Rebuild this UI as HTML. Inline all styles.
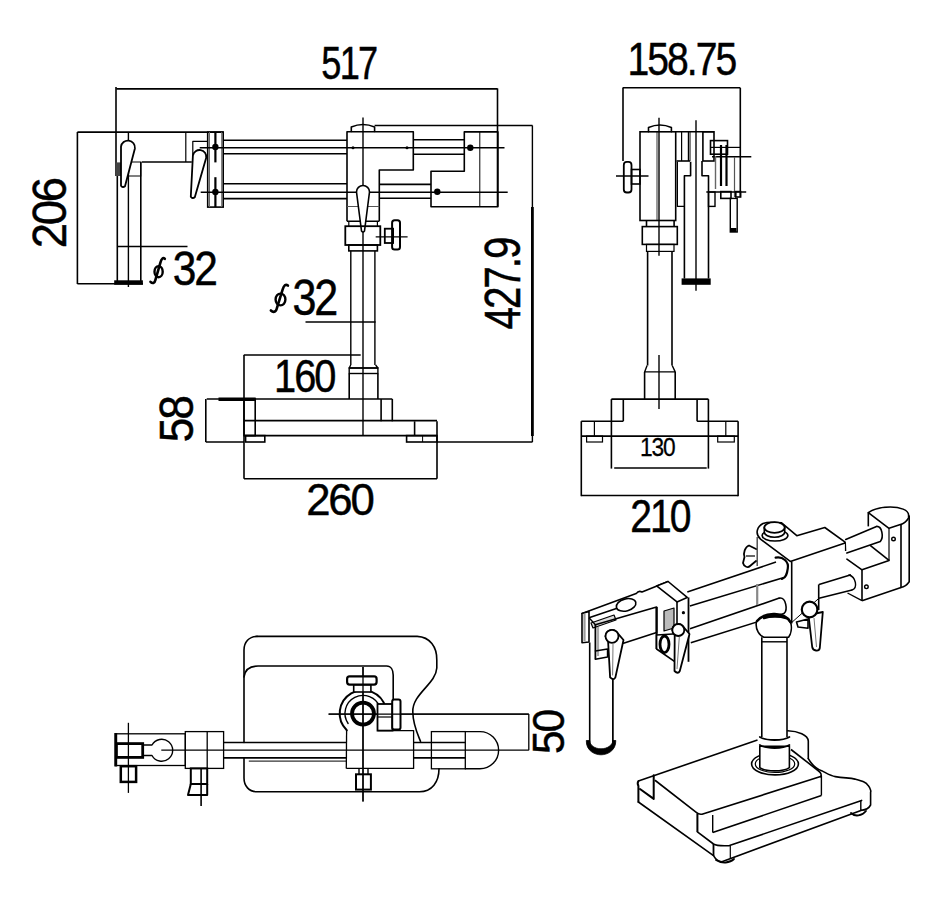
<!DOCTYPE html>
<html><head><meta charset="utf-8"><style>html,body{margin:0;padding:0;background:#fff;}svg{display:block;}</style></head>
<body><svg width="941" height="914" viewBox="0 0 941 914">
<rect width="941" height="914" fill="#fff"/>
<line x1="116.3" y1="88.9" x2="497.5" y2="88.9" stroke="#000" stroke-width="1.6"/>
<line x1="116" y1="87" x2="116" y2="176" stroke="#000" stroke-width="1.6"/>
<line x1="497.5" y1="88.4" x2="497.5" y2="206.5" stroke="#000" stroke-width="1.6"/>
<text transform="translate(321.35,78.53) scale(0.3622,0.4714)" font-family="Liberation Sans" font-size="100" letter-spacing="-5" fill="#000" stroke="#000" stroke-width="1">517</text>
<line x1="77.4" y1="132.1" x2="223.6" y2="132.1" stroke="#000" stroke-width="1.6"/>
<line x1="77.4" y1="132" x2="77.4" y2="284" stroke="#000" stroke-width="1.6"/>
<line x1="77.4" y1="283.7" x2="143" y2="283.7" stroke="#000" stroke-width="1.6"/>
<text transform="translate(65.52,248.17) rotate(-90) scale(0.4537,0.4789)" font-family="Liberation Sans" font-size="100" letter-spacing="-5" fill="#000" stroke="#000" stroke-width="1">206</text>
<line x1="141.8" y1="162" x2="191.8" y2="162" stroke="#000" stroke-width="1.6"/>
<line x1="185.8" y1="132" x2="185.8" y2="162" stroke="#000" stroke-width="1.2"/>
<polyline points="192.8,162 192.8,141.3 207.7,141.3" fill="none" stroke="#000" stroke-width="1.2" stroke-linejoin="round"/>
<rect x="207.7" y="132.1" width="15.5" height="75.0" rx="0" fill="none" stroke="#000" stroke-width="1.6"/>
<line x1="209.5" y1="132" x2="209.5" y2="207" stroke="#666" stroke-width="1.0"/>
<line x1="221.7" y1="132" x2="221.7" y2="207" stroke="#666" stroke-width="1.0"/>
<line x1="215.4" y1="132" x2="215.4" y2="162.4" stroke="#000" stroke-width="2.2"/>
<line x1="215.4" y1="177.2" x2="215.4" y2="207" stroke="#000" stroke-width="2.2"/>
<circle cx="215.4" cy="147" r="3.2" fill="#000"/>
<circle cx="215.4" cy="192" r="3.2" fill="#000"/>
<line x1="223.2" y1="140.2" x2="347" y2="140.2" stroke="#000" stroke-width="1.6"/>
<line x1="223.2" y1="153.7" x2="347" y2="153.7" stroke="#000" stroke-width="1.6"/>
<line x1="223.2" y1="183.8" x2="347" y2="183.8" stroke="#000" stroke-width="1.6"/>
<line x1="223.2" y1="198.6" x2="347" y2="198.6" stroke="#000" stroke-width="1.6"/>
<line x1="199.7" y1="147.8" x2="504.5" y2="147.8" stroke="#000" stroke-width="1.6"/>
<line x1="200.7" y1="192.3" x2="507.7" y2="192.3" stroke="#000" stroke-width="1.6"/>
<line x1="117.3" y1="176" x2="117.3" y2="284" stroke="#000" stroke-width="1.6"/>
<rect x="115.5" y="162.4" width="5.5" height="13.599999999999994" fill="#444"/>
<line x1="128.4" y1="132" x2="128.4" y2="287" stroke="#000" stroke-width="1.4"/>
<line x1="140.8" y1="162" x2="140.8" y2="284" stroke="#000" stroke-width="1.6"/>
<rect x="128.4" y="162" width="12.400000000000006" height="14" rx="0" fill="none" stroke="#000" stroke-width="1.0"/>
<line x1="117" y1="246.5" x2="187.5" y2="246.5" stroke="#000" stroke-width="1.4"/>
<rect x="114.2" y="280.3" width="28.700000000000003" height="4.5" fill="#000"/>
<path d="M121.0,146.7 A7.0,7.0 0 0 1 134.9,148.4 L125.0,186.3 Q122.7,188.0 121.0,185.7 Z" fill="#fff" stroke="#000" stroke-width="1.8" stroke-linejoin="round"/>
<path d="M192.9,155.5 A6.75,6.75 0 0 1 206.2,157.8 L194.8,197.3 Q192.5,199.0 190.8,196.7 Z" fill="#fff" stroke="#000" stroke-width="1.8" stroke-linejoin="round"/>
<text transform="translate(172.70,284.53) scale(0.4247,0.4718)" font-family="Liberation Sans" font-size="100" letter-spacing="-5" fill="#000" stroke="#000" stroke-width="1">32</text>
<ellipse cx="158.6" cy="271.7" rx="4.1" ry="5.5" fill="none" stroke="#000" stroke-width="2.4"/>
<path d="M164.8,258.8 C163.0,257.2 161.5,258.6 160.4,262.7 L155.5,279.6 C154.6,283.7 152.3,283.7 150.5,281.8" fill="none" stroke="#000" stroke-width="2.6" stroke-linecap="round"/>
<path d="M351.3,131.5 L351.3,127 Q363,122 374.6,127 L374.6,131.5" fill="none" stroke="#000" stroke-width="1.6" stroke-linejoin="round" stroke-linecap="round"/>
<line x1="363" y1="117.4" x2="363" y2="436" stroke="#000" stroke-width="1.4"/>
<line x1="374.6" y1="125.5" x2="532.5" y2="125.5" stroke="#000" stroke-width="1.6"/>
<polyline points="347,221.3 347,131.7 413.3,131.7 413.3,170 379.3,170 379.3,221.3" fill="none" stroke="#000" stroke-width="1.6" stroke-linejoin="round"/>
<line x1="413.3" y1="139.8" x2="464.3" y2="139.8" stroke="#000" stroke-width="1.6"/>
<line x1="413.3" y1="154.2" x2="464.3" y2="154.2" stroke="#000" stroke-width="1.6"/>
<line x1="379.3" y1="184.4" x2="431" y2="184.4" stroke="#000" stroke-width="1.6"/>
<line x1="379.3" y1="198.2" x2="431" y2="198.2" stroke="#000" stroke-width="1.6"/>
<circle cx="353" cy="147.8" r="1.5" fill="#000"/>
<circle cx="407" cy="147.8" r="1.5" fill="#000"/>
<polygon points="464.3,131.9 497.9,131.9 497.9,206.7 431,206.7 431,171.2 464.3,171.2" fill="none" stroke="#000" stroke-width="1.6" stroke-linejoin="round"/>
<line x1="479.8" y1="132" x2="479.8" y2="206.5" stroke="#000" stroke-width="1.0"/>
<circle cx="470.3" cy="147.8" r="3.2" fill="#000"/>
<circle cx="437.3" cy="191.8" r="3.2" fill="#000"/>
<line x1="347" y1="206.5" x2="379.3" y2="206.5" stroke="#555" stroke-width="1.2"/>
<line x1="347" y1="221.3" x2="379.3" y2="221.3" stroke="#000" stroke-width="1.6"/>
<line x1="348.8" y1="221.3" x2="348.8" y2="226.2" stroke="#000" stroke-width="1.2"/>
<line x1="377.4" y1="221.3" x2="377.4" y2="226.2" stroke="#000" stroke-width="1.2"/>
<path d="M356.5,192.0 A6.5,6.5 0 0 1 369.5,192.0 L364.5,231.0 Q363.0,233.0 361.5,231.0 Z" fill="#fff" stroke="#000" stroke-width="1.6" stroke-linejoin="round"/>
<rect x="345.3" y="226.2" width="35.0" height="18.80000000000001" rx="0" fill="none" stroke="#000" stroke-width="1.8"/>
<rect x="348.8" y="245" width="28.599999999999966" height="5.900000000000006" rx="0" fill="none" stroke="#000" stroke-width="1.6"/>
<line x1="350.8" y1="250.9" x2="350.8" y2="365" stroke="#000" stroke-width="1.4"/>
<line x1="374.9" y1="250.9" x2="374.9" y2="365" stroke="#000" stroke-width="1.4"/>
<line x1="375.7" y1="236.9" x2="407.6" y2="236.9" stroke="#000" stroke-width="1.4"/>
<rect x="384.8" y="228.7" width="8.300000000000011" height="14.300000000000011" rx="0" fill="none" stroke="#000" stroke-width="1.8"/>
<rect x="392.1" y="220.3" width="7.899999999999977" height="29.099999999999994" rx="2.5" fill="none" stroke="#000" stroke-width="2"/>
<text transform="translate(292.48,315.01) scale(0.4309,0.4901)" font-family="Liberation Sans" font-size="100" letter-spacing="-5" fill="#000" stroke="#000" stroke-width="1">32</text>
<ellipse cx="280.5" cy="299.5" rx="4.9" ry="5.9" fill="none" stroke="#000" stroke-width="2.4"/>
<path d="M287.9,285.6 C285.7,283.8 283.9,285.3 282.6,289.7 L276.9,308.2 C275.8,312.6 273.1,312.6 270.9,310.5" fill="none" stroke="#000" stroke-width="2.6" stroke-linecap="round"/>
<line x1="305.5" y1="322" x2="375.6" y2="322" stroke="#000" stroke-width="1.4"/>
<line x1="243.8" y1="355" x2="360.7" y2="355" stroke="#000" stroke-width="1.4"/>
<text transform="translate(274.02,392.33) scale(0.3979,0.4704)" font-family="Liberation Sans" font-size="100" letter-spacing="-5" fill="#000" stroke="#000" stroke-width="1">160</text>
<polyline points="350.7,365 349.2,368 377.9,368 375.6,365" fill="none" stroke="#000" stroke-width="1.4" stroke-linejoin="round"/>
<rect x="349.2" y="368" width="28.69999999999999" height="5.5" rx="0" fill="none" stroke="#000" stroke-width="1.4"/>
<line x1="349.2" y1="373.5" x2="349.2" y2="399" stroke="#000" stroke-width="1.6"/>
<line x1="377.9" y1="373.5" x2="377.9" y2="399" stroke="#000" stroke-width="1.6"/>
<line x1="206.7" y1="399" x2="392.3" y2="399" stroke="#000" stroke-width="1.6"/>
<rect x="218.5" y="397.5" width="37.19999999999999" height="3.5" fill="#000"/>
<line x1="205.8" y1="399" x2="205.8" y2="442" stroke="#000" stroke-width="1.6"/>
<line x1="205.8" y1="442" x2="244" y2="442" stroke="#000" stroke-width="1.6"/>
<line x1="437" y1="442" x2="532.5" y2="442" stroke="#000" stroke-width="1.6"/>
<rect x="244" y="399" width="11.199999999999989" height="36.60000000000002" rx="0" fill="none" stroke="#000" stroke-width="1.6"/>
<line x1="244" y1="420.6" x2="437" y2="420.6" stroke="#000" stroke-width="1.6"/>
<line x1="381.1" y1="399" x2="381.1" y2="421.3" stroke="#000" stroke-width="1.6"/>
<line x1="392.3" y1="399" x2="392.3" y2="421.3" stroke="#000" stroke-width="1.6"/>
<line x1="244" y1="435.6" x2="437" y2="435.6" stroke="#000" stroke-width="1.6"/>
<line x1="437" y1="421.3" x2="437" y2="478.7" stroke="#000" stroke-width="1.6"/>
<line x1="414.6" y1="421.3" x2="414.6" y2="435.6" stroke="#000" stroke-width="1.6"/>
<rect x="245.6" y="435.6" width="19.200000000000017" height="6.399999999999977" rx="0" fill="none" stroke="#000" stroke-width="1.6"/>
<rect x="406.6" y="435.6" width="30.399999999999977" height="6.399999999999977" rx="0" fill="none" stroke="#000" stroke-width="1.6"/>
<line x1="422.6" y1="435.6" x2="422.6" y2="442" stroke="#000" stroke-width="1.0"/>
<line x1="244" y1="355" x2="244" y2="478.7" stroke="#000" stroke-width="1.6"/>
<line x1="244" y1="478.7" x2="437" y2="478.7" stroke="#000" stroke-width="1.6"/>
<text transform="translate(192.52,442.28) rotate(-90) scale(0.4449,0.4761)" font-family="Liberation Sans" font-size="100" letter-spacing="-5" fill="#000" stroke="#000" stroke-width="1">58</text>
<text transform="translate(306.21,515.05) scale(0.4372,0.4493)" font-family="Liberation Sans" font-size="100" letter-spacing="-5" fill="#000" stroke="#000" stroke-width="1">260</text>
<line x1="532.4" y1="125.5" x2="532.4" y2="207" stroke="#000" stroke-width="1.4"/>
<line x1="532.4" y1="207" x2="532.4" y2="436" stroke="#000" stroke-width="2.8"/>
<line x1="532.4" y1="436" x2="532.4" y2="442" stroke="#000" stroke-width="1.4"/>
<text transform="translate(520.10,329.41) rotate(-90) scale(0.4031,0.5014)" font-family="Liberation Sans" font-size="100" letter-spacing="-5" fill="#000" stroke="#000" stroke-width="1">427.9</text>
<line x1="622.7" y1="87.8" x2="740.3" y2="87.8" stroke="#000" stroke-width="1.6"/>
<line x1="623" y1="87.8" x2="623" y2="161" stroke="#000" stroke-width="1.6"/>
<line x1="740.3" y1="87.8" x2="740.3" y2="196.7" stroke="#000" stroke-width="1.6"/>
<text transform="translate(627.47,75.24) scale(0.3911,0.4577)" font-family="Liberation Sans" font-size="100" letter-spacing="-5" fill="#000" stroke="#000" stroke-width="1">158.75</text>
<rect x="623.8" y="161.9" width="7.7000000000000455" height="30.599999999999994" rx="3" fill="none" stroke="#000" stroke-width="1.8"/>
<rect x="631.5" y="169.5" width="8.5" height="14.5" rx="0" fill="none" stroke="#000" stroke-width="1.6"/>
<line x1="616" y1="176" x2="648.5" y2="176" stroke="#000" stroke-width="1.4"/>
<rect x="640" y="131.8" width="35.700000000000045" height="88.69999999999999" rx="0" fill="none" stroke="#000" stroke-width="1.6"/>
<path d="M648.5,131.8 L648.5,127.5 Q660,122.5 671.4,127.5 L671.4,131.8" fill="none" stroke="#000" stroke-width="1.6" stroke-linejoin="round" stroke-linecap="round"/>
<line x1="659" y1="117.7" x2="659" y2="255.7" stroke="#000" stroke-width="1.4"/>
<line x1="659" y1="355" x2="659" y2="409" stroke="#000" stroke-width="1.4"/>
<line x1="657" y1="132" x2="657" y2="220" stroke="#000" stroke-width="0.8"/>
<line x1="675.7" y1="131.8" x2="714" y2="131.8" stroke="#000" stroke-width="1.6"/>
<line x1="676.5" y1="161" x2="690" y2="161" stroke="#000" stroke-width="1.6"/>
<line x1="681.6" y1="132" x2="681.6" y2="161" stroke="#000" stroke-width="1.2"/>
<line x1="688.4" y1="132" x2="688.4" y2="161" stroke="#000" stroke-width="1.2"/>
<line x1="690" y1="132" x2="690" y2="161" stroke="#000" stroke-width="1.0"/>
<rect x="702.9" y="131.8" width="11.100000000000023" height="29.19999999999999" rx="0" fill="none" stroke="#000" stroke-width="1.6"/>
<line x1="696" y1="120.2" x2="696" y2="290.8" stroke="#000" stroke-width="1.4"/>
<polyline points="677.4,161.8 677.4,206.4 684.4,206.4" fill="none" stroke="#000" stroke-width="1.2" stroke-linejoin="round"/>
<polyline points="690.6,161.8 690.6,175.8 684.4,175.8 684.4,278.4" fill="none" stroke="#000" stroke-width="1.6" stroke-linejoin="round"/>
<polyline points="702,161 702,175.8 708.5,175.8 708.5,278.4" fill="none" stroke="#000" stroke-width="1.6" stroke-linejoin="round"/>
<rect x="708.5" y="192" width="6.5" height="14.400000000000006" rx="0" fill="none" stroke="#000" stroke-width="1.4"/>
<rect x="710.5" y="140.6" width="17.0" height="13.599999999999994" rx="0" fill="none" stroke="#000" stroke-width="1.6"/>
<line x1="712" y1="156.8" x2="751.3" y2="156.8" stroke="#000" stroke-width="1.4"/>
<line x1="710" y1="147.4" x2="740" y2="147.4" stroke="#000" stroke-width="1.2"/>
<line x1="715.5" y1="156" x2="715.5" y2="189" stroke="#666" stroke-width="1.4"/>
<line x1="721" y1="145" x2="721" y2="186" stroke="#000" stroke-width="2.2"/>
<line x1="726.5" y1="145" x2="726.5" y2="186" stroke="#000" stroke-width="2.2"/>
<line x1="734.5" y1="157" x2="734.5" y2="197" stroke="#555" stroke-width="1.2"/>
<rect x="720.8" y="191.6" width="10.200000000000045" height="6.800000000000011" rx="0" fill="none" stroke="#000" stroke-width="1.6"/>
<rect x="735.8" y="191.6" width="4.800000000000068" height="5.400000000000006" rx="0" fill="none" stroke="#000" stroke-width="1.6"/>
<line x1="706.3" y1="192" x2="746.2" y2="192" stroke="#000" stroke-width="1.4"/>
<rect x="730.3" y="198.4" width="6.900000000000091" height="33.599999999999994" rx="0" fill="none" stroke="#000" stroke-width="1.4"/>
<rect x="731" y="228" width="5.5" height="4" fill="#000"/>
<line x1="646.5" y1="220.5" x2="646.5" y2="226.6" stroke="#000" stroke-width="1.6"/>
<line x1="674.1" y1="220.5" x2="674.1" y2="226.6" stroke="#000" stroke-width="1.6"/>
<rect x="642.3" y="226.6" width="35.0" height="17.80000000000001" rx="0" fill="none" stroke="#000" stroke-width="1.6"/>
<rect x="646.5" y="244.4" width="27.5" height="7.0" rx="0" fill="none" stroke="#000" stroke-width="1.2"/>
<line x1="647.6" y1="251.4" x2="647.6" y2="365.5" stroke="#000" stroke-width="1.6"/>
<line x1="672" y1="251.4" x2="672" y2="365.5" stroke="#000" stroke-width="1.6"/>
<rect x="681.6" y="278.4" width="29.100000000000023" height="6.400000000000034" fill="#000"/>
<polyline points="647.1,365.5 644.6,371.9 675.2,371.9 672.2,365.5" fill="none" stroke="#000" stroke-width="1.4" stroke-linejoin="round"/>
<line x1="644.6" y1="371.9" x2="644.6" y2="399.1" stroke="#000" stroke-width="1.6"/>
<line x1="675.2" y1="371.9" x2="675.2" y2="399.1" stroke="#000" stroke-width="1.6"/>
<line x1="611.4" y1="399.1" x2="708.4" y2="399.1" stroke="#000" stroke-width="1.6"/>
<line x1="611.4" y1="399.1" x2="611.4" y2="468.6" stroke="#000" stroke-width="1.6"/>
<line x1="708.4" y1="399.1" x2="708.4" y2="468.6" stroke="#000" stroke-width="1.6"/>
<line x1="623.3" y1="399.1" x2="623.3" y2="421.2" stroke="#000" stroke-width="1.6"/>
<line x1="697.1" y1="399.1" x2="697.1" y2="421.2" stroke="#000" stroke-width="1.6"/>
<line x1="581.3" y1="421.2" x2="623.3" y2="421.2" stroke="#000" stroke-width="1.6"/>
<line x1="697.1" y1="421.2" x2="738.1" y2="421.2" stroke="#000" stroke-width="1.6"/>
<line x1="581.3" y1="436.1" x2="738.1" y2="436.1" stroke="#000" stroke-width="1.6"/>
<line x1="581.3" y1="421.2" x2="581.3" y2="496.2" stroke="#000" stroke-width="1.6"/>
<line x1="738.1" y1="421.2" x2="738.1" y2="496.2" stroke="#000" stroke-width="1.6"/>
<rect x="586.6" y="436.1" width="15.899999999999977" height="5.899999999999977" rx="0" fill="none" stroke="#000" stroke-width="1.2"/>
<rect x="717.7" y="436.1" width="16.59999999999991" height="5.899999999999977" rx="0" fill="none" stroke="#000" stroke-width="1.2"/>
<line x1="594.4" y1="421.2" x2="594.4" y2="436.1" stroke="#000" stroke-width="1.2"/>
<line x1="725.8" y1="421.2" x2="725.8" y2="436.1" stroke="#000" stroke-width="1.2"/>
<line x1="614.2" y1="468" x2="706.7" y2="468" stroke="#000" stroke-width="1.4"/>
<text transform="translate(639.98,455.55) scale(0.2276,0.2535)" font-family="Liberation Sans" font-size="100" letter-spacing="-5" fill="#000" stroke="#000" stroke-width="1">130</text>
<line x1="581.3" y1="495.5" x2="738.1" y2="495.5" stroke="#000" stroke-width="1.6"/>
<text transform="translate(630.35,531.63) scale(0.3905,0.4704)" font-family="Liberation Sans" font-size="100" letter-spacing="-5" fill="#000" stroke="#000" stroke-width="1">210</text>
<path d="M257,636.4 L417.2,636.4 C430,637 437,647 436.8,660 L436.8,668 C436,684 412,694 412.8,712 C413,725 418,735 420.5,741.4" fill="none" stroke="#000" stroke-width="1.6" stroke-linejoin="round" stroke-linecap="round"/>
<path d="M439,768.8 C439,782 432,791.8 419.4,791.8 L257,791.8 C249,791.8 244,786 244,778 L244,757.9 M244,742.5 L244,650 C244,642 249,636.4 257,636.4" fill="none" stroke="#000" stroke-width="1.6" stroke-linejoin="round" stroke-linecap="round"/>
<path d="M244,677 C245,669 250,666 258,666 L386.6,666 C391,666 393.2,670 393.2,675 L393.2,703" fill="none" stroke="#000" stroke-width="1.6" stroke-linejoin="round" stroke-linecap="round"/>
<line x1="363" y1="667" x2="363" y2="801.6" stroke="#000" stroke-width="1.3"/>
<line x1="328.6" y1="714.1" x2="528.8" y2="714.1" stroke="#000" stroke-width="1.3"/>
<circle cx="363" cy="713.6" r="11" fill="none" stroke="#000" stroke-width="3.8"/>
<path d="M346.8,730.2 A23.3,23.3 0 1 1 385.5,707.4" fill="none" stroke="#000" stroke-width="2" stroke-linejoin="round" stroke-linecap="round"/>
<path d="M348.1,723.5 A18,18 0 1 1 379.9,707.2" fill="none" stroke="#000" stroke-width="1.4" stroke-linejoin="round" stroke-linecap="round"/>
<line x1="346.6" y1="730" x2="346.3" y2="768.4" stroke="#000" stroke-width="1.3"/>
<rect x="353.7" y="684.6" width="17.2" height="7.4" fill="#fff" stroke="#000" stroke-width="1.6"/>
<rect x="347.1" y="676.4" width="29.5" height="8.2" rx="2.5" fill="#fff" stroke="#000" stroke-width="2.2"/>
<rect x="377.5" y="704" width="15" height="26.6" fill="#fff" stroke="#000" stroke-width="1.8"/>
<rect x="392.2" y="699.4" width="8.3" height="30" rx="2" fill="#fff" stroke="#000" stroke-width="2"/>
<line x1="377.5" y1="717" x2="392.2" y2="717" stroke="#000" stroke-width="1.2"/>
<line x1="363" y1="667" x2="363" y2="801.6" stroke="#000" stroke-width="1.3"/>
<line x1="328.6" y1="714.1" x2="528.8" y2="714.1" stroke="#000" stroke-width="1.3"/>
<polyline points="377.5,730.6 413.6,730.6 413.6,768.4 346.3,768.4" fill="none" stroke="#000" stroke-width="1.3" stroke-linejoin="round"/>
<line x1="223.6" y1="742.5" x2="346.1" y2="742.5" stroke="#000" stroke-width="1.6"/>
<line x1="414" y1="742.5" x2="465.3" y2="742.5" stroke="#000" stroke-width="1.6"/>
<line x1="223.6" y1="757.9" x2="346.1" y2="757.9" stroke="#000" stroke-width="1.6"/>
<line x1="414" y1="757.9" x2="465.3" y2="757.9" stroke="#000" stroke-width="1.6"/>
<line x1="161.3" y1="750.2" x2="528.8" y2="750.2" stroke="#000" stroke-width="1.3"/>
<line x1="248.8" y1="761.1" x2="346.1" y2="761.1" stroke="#000" stroke-width="1.0"/>
<rect x="356" y="774.3" width="14.899999999999977" height="15.300000000000068" rx="0" fill="none" stroke="#000" stroke-width="2"/>
<line x1="359" y1="768.4" x2="359" y2="774.3" stroke="#000" stroke-width="1.4"/>
<line x1="368" y1="768.4" x2="368" y2="774.3" stroke="#000" stroke-width="1.4"/>
<rect x="431.4" y="731.6" width="33.900000000000034" height="37.19999999999993" rx="0" fill="none" stroke="#000" stroke-width="1.3"/>
<path d="M465.3,731.6 L480,731.6 A18.6,18.6 0 0 1 480,768.8 L465.3,768.8" fill="none" stroke="#000" stroke-width="1.4" stroke-linejoin="round" stroke-linecap="round"/>
<line x1="528.8" y1="714.1" x2="528.8" y2="750.2" stroke="#000" stroke-width="1.3"/>
<text transform="translate(564.45,754.10) rotate(-90) scale(0.4245,0.4465)" font-family="Liberation Sans" font-size="100" letter-spacing="-5" fill="#000" stroke="#000" stroke-width="1">50</text>
<rect x="115.3" y="733.8" width="70.00000000000001" height="31.700000000000045" rx="0" fill="none" stroke="#000" stroke-width="1.3"/>
<line x1="115.8" y1="733" x2="115.8" y2="766.5" stroke="#000" stroke-width="2.8"/>
<rect x="185.3" y="731.6" width="38.29999999999998" height="36.799999999999955" rx="0" fill="none" stroke="#000" stroke-width="1.3"/>
<line x1="207.2" y1="731.6" x2="207.2" y2="768.4" stroke="#000" stroke-width="1.3"/>
<rect x="116.4" y="743.6" width="26.299999999999983" height="13.799999999999955" rx="0" fill="none" stroke="#000" stroke-width="2.8"/>
<path d="M142.7,745 L152,745 A11,11 0 1 1 152,755.5 L142.7,755.5" fill="none" stroke="#000" stroke-width="1.4" stroke-linejoin="round" stroke-linecap="round"/>
<line x1="128.4" y1="722.8" x2="128.4" y2="792.9" stroke="#000" stroke-width="1.3"/>
<rect x="120.8" y="766.2" width="15.299999999999997" height="15.699999999999932" rx="0" fill="none" stroke="#000" stroke-width="2.5"/>
<rect x="190.8" y="768.4" width="16.399999999999977" height="15.600000000000023" rx="0" fill="none" stroke="#000" stroke-width="2"/>
<polyline points="190.8,784 188,795 207.2,795 207.2,784" fill="none" stroke="#000" stroke-width="2" stroke-linejoin="round"/>
<line x1="201.1" y1="768.4" x2="201.1" y2="806" stroke="#000" stroke-width="1.6"/>
<line x1="589.7" y1="642.5" x2="589.7" y2="745" stroke="#000" stroke-width="1.6"/>
<line x1="612.9" y1="642.5" x2="612.9" y2="745" stroke="#000" stroke-width="1.6"/>
<path d="M586.3,740.5 C586,751 595,754.8 601,754.8 C607,754.8 616,751 615.8,740.5 L612.9,740.5 C612.5,745.5 607,748.8 601,748.8 C595,748.8 589.8,745.5 589.7,740.5 Z" fill="#000" stroke="#000" stroke-width="0.8"/>
<line x1="612.6" y1="678" x2="612.6" y2="742" stroke="#000" stroke-width="1.0"/>
<path d="M582,613.4 L636.2,593.6 C638,591 640,591 642,592 L668.1,581.5" fill="none" stroke="#000" stroke-width="1.6" stroke-linejoin="round" stroke-linecap="round"/>
<line x1="589" y1="617.8" x2="617.1" y2="608.3" stroke="#000" stroke-width="1.6"/>
<path d="M591,623 L614,615 L616,620 L593,628 Z" fill="#ddd" stroke="#000" stroke-width="1.2" stroke-linejoin="round" stroke-linecap="round"/>
<ellipse cx="626.1" cy="604.9" rx="10" ry="6" fill="none" stroke="#000" stroke-width="1.6" transform="rotate(-15 626.1 604.9)"/>
<path d="M582,613.4 L589,611.5 L589,642 L582,642.7 Z" fill="#fff" stroke="#000" stroke-width="1.6" stroke-linejoin="round" stroke-linecap="round"/>
<line x1="584.5" y1="614" x2="584.5" y2="641" stroke="#999" stroke-width="2.2"/>
<path d="M595.4,624.8 L656.6,607 L656.6,632.5 L623.5,643.3" fill="none" stroke="#000" stroke-width="1.6" stroke-linejoin="round" stroke-linecap="round"/>
<line x1="595.4" y1="624.8" x2="595.4" y2="659.3" stroke="#000" stroke-width="1.8"/>
<line x1="598" y1="627" x2="598" y2="656" stroke="#aaa" stroke-width="2.2"/>
<line x1="589" y1="617.8" x2="595.4" y2="624.8" stroke="#000" stroke-width="1.4"/>
<path d="M595.4,651 L607.5,649 L607.5,657 L595.4,659.3" fill="none" stroke="#000" stroke-width="1.4" stroke-linejoin="round" stroke-linecap="round"/>
<path d="M605.5,636.3 A6.5,6.5 0 0 1 616.5,631.8 L623.5,640.0 L615.4,677.4 Q613.6,680.9 610.1,677.4 L608.1,641.5 Z" fill="#fff" stroke="#000" stroke-width="1.8" stroke-linejoin="round"/>
<circle cx="612.0" cy="636.3" r="6.5" fill="#fff" stroke="#000" stroke-width="1.8"/>
<line x1="613.0" y1="643.8" x2="612.6" y2="675.4" stroke="#777" stroke-width="1"/>
<path d="M656.6,585.9 L668.1,581.5 L687.2,597.4 L677,601.9 Z" fill="#fff" stroke="#000" stroke-width="1.6" stroke-linejoin="round" stroke-linecap="round"/>
<line x1="677" y1="601.9" x2="677" y2="645" stroke="#000" stroke-width="1.6"/>
<line x1="688.5" y1="597.4" x2="688.5" y2="661.8" stroke="#000" stroke-width="1.8"/>
<line x1="656.6" y1="607" x2="656.6" y2="649" stroke="#000" stroke-width="2.2"/>
<path d="M664,611 L674,608 L674,628 L664,631 Z" fill="#bbb" stroke="#000" stroke-width="1.2" stroke-linejoin="round" stroke-linecap="round"/>
<path d="M656.6,635 L677,633.8 L678,663.8 L656.6,649 Z" fill="#fff" stroke="#000" stroke-width="1.6" stroke-linejoin="round" stroke-linecap="round"/>
<ellipse cx="664.5" cy="644.3" rx="4.5" ry="8.3" fill="none" stroke="#000" stroke-width="2.8" transform="rotate(0 664.5 644.3)"/>
<circle cx="683.4" cy="612.7" r="1.6" fill="#000"/>
<path d="M672.3,630.0 A6,6 0 0 1 682.5,625.8 L689.5,634.0 L679.8,671.0 Q678.0,674.5 674.5,671.0 L674.7,634.8 Z" fill="#fff" stroke="#000" stroke-width="1.8" stroke-linejoin="round"/>
<circle cx="678.3" cy="630.0" r="6" fill="#fff" stroke="#000" stroke-width="1.8"/>
<line x1="679.3" y1="637.0" x2="677.0" y2="669.0" stroke="#777" stroke-width="1"/>
<line x1="687.3" y1="591.9" x2="776" y2="562" stroke="#000" stroke-width="1.6"/>
<line x1="689.9" y1="605.9" x2="784" y2="577.5" stroke="#000" stroke-width="1.6"/>
<line x1="690" y1="628.7" x2="779.4" y2="598.1" stroke="#000" stroke-width="1.6"/>
<line x1="690.8" y1="642.7" x2="784" y2="613.5" stroke="#000" stroke-width="1.6"/>
<path d="M779.4,598.1 C786,597 788,610 784,613.5" fill="none" stroke="#000" stroke-width="1.6" stroke-linejoin="round" stroke-linecap="round"/>
<path d="M760.5,539.2 C754,533 758,526 763,523.5 C766,522.5 769,522.3 771,522.3 L781.6,522.9 L796.8,535.7 L824.8,527.5 L845.8,542.7 L790.3,561.4 Z" fill="#fff" stroke="#000" stroke-width="1.6" stroke-linejoin="round" stroke-linecap="round"/>
<line x1="757.2" y1="537" x2="757.2" y2="566" stroke="#444" stroke-width="1.4"/>
<line x1="757.2" y1="584" x2="757.2" y2="605" stroke="#888" stroke-width="2.2"/>
<line x1="791.7" y1="561.4" x2="791.7" y2="623.4" stroke="#000" stroke-width="1.6"/>
<line x1="845.7" y1="542" x2="845.7" y2="551" stroke="#000" stroke-width="1.6"/>
<ellipse cx="775" cy="535.5" rx="12.9" ry="5.5" fill="#fff" stroke="#000" stroke-width="1.6" transform="rotate(0 775 535.5)"/>
<path d="M764.3,527.5 L764.3,532 A10.2,5.3 0 0 0 784.7,532 L784.7,527.5 Z" fill="#fff" stroke="#000" stroke-width="1.6" stroke-linejoin="round" stroke-linecap="round"/>
<ellipse cx="774.5" cy="527.5" rx="10.2" ry="5.3" fill="#fff" stroke="#000" stroke-width="1.8" transform="rotate(0 774.5 527.5)"/>
<path d="M775.6,557.6 C783,556 789,562 787.8,568.3 C787,574 786,578 782,579" fill="none" stroke="#000" stroke-width="2.2" stroke-linejoin="round" stroke-linecap="round"/>
<path d="M756,549 L749,545.5 C745,547 743,553 744.5,557 L743,563 C744,567 748,568 750,566 L756,561" fill="#fff" stroke="#000" stroke-width="1.8" stroke-linejoin="round" stroke-linecap="round"/>
<line x1="746" y1="556" x2="755" y2="556" stroke="#000" stroke-width="1.2"/>
<path d="M868.3,512.6 C872,510 880,507 890.3,507 C900,507 908.6,510 908.6,515 L908.6,518 C906,522 903,524 900.4,524.6 L889,528.3 Z" fill="#fff" stroke="#000" stroke-width="1.6" stroke-linejoin="round" stroke-linecap="round"/>
<line x1="868.3" y1="512.6" x2="868.3" y2="526.4" stroke="#000" stroke-width="1.6"/>
<line x1="889" y1="528.3" x2="889" y2="560.4" stroke="#000" stroke-width="1.2"/>
<line x1="901" y1="524.6" x2="901" y2="587" stroke="#000" stroke-width="1.6"/>
<path d="M909.2,516 L909.2,581.8 C907,585 904,587 901,587.5" fill="none" stroke="#000" stroke-width="1.6" stroke-linejoin="round" stroke-linecap="round"/>
<path d="M846.9,559.2 L862,569.8 L889,560.4" fill="none" stroke="#000" stroke-width="1.6" stroke-linejoin="round" stroke-linecap="round"/>
<line x1="870.2" y1="545.3" x2="889" y2="560.4" stroke="#000" stroke-width="1.6"/>
<line x1="862" y1="569.8" x2="862" y2="600.7" stroke="#000" stroke-width="1.6"/>
<line x1="862" y1="600.7" x2="901" y2="587.5" stroke="#000" stroke-width="1.6"/>
<line x1="847.5" y1="593" x2="862" y2="600.7" stroke="#000" stroke-width="1.4"/>
<circle cx="893.5" cy="539" r="1.8" fill="none" stroke="#000" stroke-width="1.4"/>
<circle cx="866.4" cy="586.8" r="1.8" fill="none" stroke="#000" stroke-width="1.4"/>
<path d="M845.7,539.5 L876.5,526.4 C882,526 884,537 880.3,541.5 L846.8,553" fill="#fff" stroke="#000" stroke-width="1.6" stroke-linejoin="round" stroke-linecap="round"/>
<line x1="819" y1="584.4" x2="851" y2="574.8" stroke="#000" stroke-width="1.6"/>
<line x1="819" y1="598.2" x2="852" y2="590" stroke="#000" stroke-width="1.6"/>
<path d="M849,575 C856,577 858,588 852,590" fill="none" stroke="#000" stroke-width="1.4" stroke-linejoin="round" stroke-linecap="round"/>
<line x1="818.7" y1="584.4" x2="818.7" y2="610" stroke="#000" stroke-width="1.6"/>
<line x1="790" y1="624" x2="819" y2="598.2" stroke="#000" stroke-width="1.0"/>
<path d="M796.5,622 L808,619 L808,628.3 L798,627 Z" fill="#fff" stroke="#000" stroke-width="1.6" stroke-linejoin="round" stroke-linecap="round"/>
<path d="M808.5,615 L812.2,647 C813,651 819,652 819.8,648 L822.8,612 Z" fill="#fff" stroke="#000" stroke-width="1.8" stroke-linejoin="round" stroke-linecap="round"/>
<circle cx="809.6" cy="609.5" r="7.8" fill="#fff" stroke="#000" stroke-width="2.2"/>
<line x1="814" y1="618" x2="816.5" y2="647" stroke="#777" stroke-width="1.0"/>
<path d="M756.4,621.9 C755,630 760,636 764.1,637.2 L788.6,637.2 C791,634 792,628 790.9,623.4 C785,612 765,612 756.4,621.9 Z" fill="#fff" stroke="#000" stroke-width="1.6" stroke-linejoin="round" stroke-linecap="round"/>
<path d="M757,621 C765,611 785,612 790.5,622" fill="none" stroke="#000" stroke-width="2.4" stroke-linejoin="round" stroke-linecap="round"/>
<path d="M764,618 C770,614 780,614 786,618 C780,616 770,616 764,618 Z" fill="none" stroke="#000" stroke-width="2.5" stroke-linejoin="round" stroke-linecap="round"/>
<line x1="761.8" y1="641.8" x2="787" y2="641.8" stroke="#000" stroke-width="1.4"/>
<line x1="761.8" y1="637.2" x2="761.8" y2="737.1" stroke="#000" stroke-width="1.6"/>
<line x1="787" y1="637.2" x2="787" y2="737.1" stroke="#000" stroke-width="1.6"/>
<ellipse cx="775" cy="763.9" rx="23.4" ry="11" fill="none" stroke="#000" stroke-width="1.6" transform="rotate(0 775 763.9)"/>
<ellipse cx="775" cy="763.9" rx="19.7" ry="8.6" fill="none" stroke="#000" stroke-width="1.2" transform="rotate(0 775 763.9)"/>
<path d="M759.8,746.3 L759.8,767.6 C766,772 783,772 789.4,767.6 L789.4,746.3 Z" fill="#fff" stroke="#000" stroke-width="1.6" stroke-linejoin="round" stroke-linecap="round"/>
<path d="M759.8,737 C766,741 783,741 789.4,737" fill="none" stroke="#000" stroke-width="1.8" stroke-linejoin="round" stroke-linecap="round"/>
<path d="M759.8,745 C766,749 783,749 789.4,745" fill="none" stroke="#000" stroke-width="1.8" stroke-linejoin="round" stroke-linecap="round"/>
<line x1="638.4" y1="781" x2="757.5" y2="740" stroke="#000" stroke-width="1.6"/>
<path d="M787.7,730.7 C798,731 808,735 808.3,741 L808.3,758.6" fill="none" stroke="#000" stroke-width="1.6" stroke-linejoin="round" stroke-linecap="round"/>
<line x1="791" y1="749.5" x2="818" y2="770.5" stroke="#000" stroke-width="1.6"/>
<path d="M818,770.5 C821,772.5 822,775 820.6,776.6" fill="none" stroke="#000" stroke-width="1.6" stroke-linejoin="round" stroke-linecap="round"/>
<path d="M653.7,775.2 L653.7,798.9 L640,789" fill="none" stroke="#000" stroke-width="2" stroke-linejoin="round" stroke-linecap="round"/>
<path d="M638.4,781 C637,783 638.4,786 638.4,786 L638.4,802" fill="none" stroke="#000" stroke-width="2" stroke-linejoin="round" stroke-linecap="round"/>
<path d="M655.3,780.5 L696.6,812.7 C698,814 700,814.5 702,814.2 L820.6,776.6" fill="none" stroke="#000" stroke-width="1.6" stroke-linejoin="round" stroke-linecap="round"/>
<line x1="697.4" y1="813.5" x2="697.4" y2="831.8" stroke="#000" stroke-width="2"/>
<line x1="712.7" y1="815" x2="712.7" y2="832.6" stroke="#000" stroke-width="1.4"/>
<line x1="821.4" y1="775.8" x2="821.4" y2="795.5" stroke="#000" stroke-width="1.4"/>
<line x1="712.7" y1="832.6" x2="821.4" y2="795.5" stroke="#000" stroke-width="1.6"/>
<path d="M697.4,831.8 L713.5,844 C716,845.5 722,846 729.5,845.6 L861.6,800.4" fill="none" stroke="#000" stroke-width="1.6" stroke-linejoin="round" stroke-linecap="round"/>
<path d="M638.4,802 L713.5,855.6 C716,860 719,861.7 721.9,861.7 L861.6,810.3" fill="none" stroke="#000" stroke-width="1.6" stroke-linejoin="round" stroke-linecap="round"/>
<line x1="713.5" y1="844" x2="713.5" y2="856" stroke="#000" stroke-width="1.8"/>
<line x1="730.3" y1="845.6" x2="730.3" y2="858" stroke="#000" stroke-width="1.2"/>
<path d="M808.3,758.6 C812,765 816,769 822.2,770.9 C828,774 831,776 835.3,776.6 C845,778 850,778 855,779.1 C862,781 866,782 868.2,785.6 C871,789 871,792 870.6,792.2 L870.6,805 C869,808 865,810 861.6,810.3" fill="none" stroke="#000" stroke-width="1.6" stroke-linejoin="round" stroke-linecap="round"/>
<line x1="860.8" y1="800.4" x2="860.8" y2="811" stroke="#000" stroke-width="1.4"/>
<path d="M851,813 C855,817 862,816 866,811" fill="none" stroke="#000" stroke-width="1.8" stroke-linejoin="round" stroke-linecap="round"/>
<path d="M716,860 C722,864 730,863 734,859" fill="none" stroke="#000" stroke-width="1.8" stroke-linejoin="round" stroke-linecap="round"/>
</svg></body></html>
